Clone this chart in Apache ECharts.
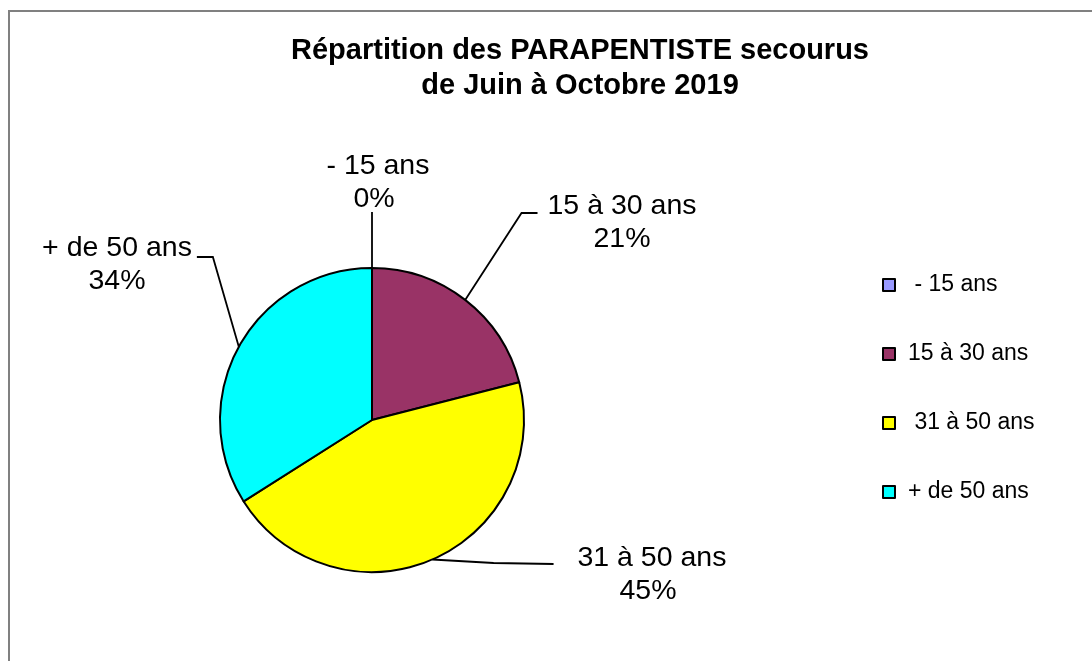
<!DOCTYPE html>
<html>
<head>
<meta charset="utf-8">
<script src="https://cdn.jsdelivr.net/npm/echarts@6/dist/echarts.min.js"></script>
<style>
html,body{margin:0;padding:0;background:#fff;}
#chart{width:1092px;height:661px;}
</style>
</head>
<body>
<div id="chart"></div>
<script>
// ---- data ----
const categories = [' - 15 ans', '15 à 30 ans', ' 31 à 50 ans', '+ de 50 ans'];
const values = [0, 21, 45, 34];
const colors = ['#9999FF', '#993366', '#FFFF00', '#00FFFF'];
const titleLines = ['Répartition des PARAPENTISTE secourus', 'de Juin à Octobre 2019'];

const FONT = '"Liberation Sans", Arial, sans-serif';

// label anchor positions (layout only)
const labelPos = [
  {x: 374, y: 183},
  {x: 622, y: 223},
  {x: 648, y: 575},
  {x: 117, y: 265}
];

const chart = echarts.init(document.getElementById('chart'), null, {renderer: 'canvas'});

chart.setOption({
  backgroundColor: '#ffffff',
  animation: false,
  title: {
    text: titleLines.join('\n'),
    left: 575,
    top: 28,
    textAlign: 'center',
    textStyle: {
      fontFamily: FONT, fontSize: 29, fontWeight: 'bold', color: '#000', lineHeight: 35
    }
  },
  graphic: [{
    type: 'rect', silent: true, z: -1,
    shape: {x: 9, y: 11, width: 1200, height: 800},
    style: {fill: 'none', stroke: '#808080', lineWidth: 2}
  }],
  legend: {
    orient: 'vertical',
    left: 877,
    top: 268,
    icon: 'rect',
    itemWidth: 12,
    itemHeight: 12,
    itemGap: 45,
    itemStyle: {borderColor: '#000', borderWidth: 2},
    textStyle: {fontFamily: FONT, fontSize: 23, color: '#000', lineHeight: 24, padding: [0, 0, 0, 8]},
    data: categories
  },
  series: [{
    type: 'pie',
    center: [372, 420],
    radius: 152,
    startAngle: 90,
    clockwise: true,
    percentPrecision: 0,
    avoidLabelOverlap: false,
    itemStyle: {borderColor: '#000', borderWidth: 2},
    emphasis: {disabled: true},
    label: {
      show: true,
      position: 'outside',
      formatter: '{b}\n{d}%',
      fontFamily: FONT,
      fontSize: 28.5,
      lineHeight: 33,
      color: '#000'
    },
    labelLine: {show: true, lineStyle: {color: '#000', width: 1.8}},
    labelLayout: function (p) {
      const pos = labelPos[p.dataIndex];
      const s = p.labelLinePoints ? p.labelLinePoints[0] : [pos.x, pos.y];
      const w = p.labelRect.width, h = p.labelRect.height;
      let pts;
      if (p.dataIndex === 0) {
        pts = [s, [s[0], pos.y + h / 2 - 4], [s[0], pos.y + h / 2 - 4]];
      } else if (p.dataIndex === 1) {
        const ex = pos.x - w / 2 - 10, ey = pos.y - 10;
        pts = [s, [ex - 16, ey], [ex, ey]];
      } else if (p.dataIndex === 2) {
        const ex = pos.x - w / 2 - 16, ey = pos.y - 11;
        pts = [s, [ex - 60, ey - 1], [ex, ey]];
      } else {
        const ex = pos.x + w / 2 + 5, ey = pos.y - 8;
        pts = [s, [ex + 16, ey], [ex, ey]];
      }
      return {x: pos.x, y: pos.y, align: 'center', verticalAlign: 'middle', labelLinePoints: pts};
    },
    data: categories.map((c, i) => ({name: c, value: values[i], itemStyle: {color: colors[i]}}))
  }]
});
</script>
</body>
</html>
